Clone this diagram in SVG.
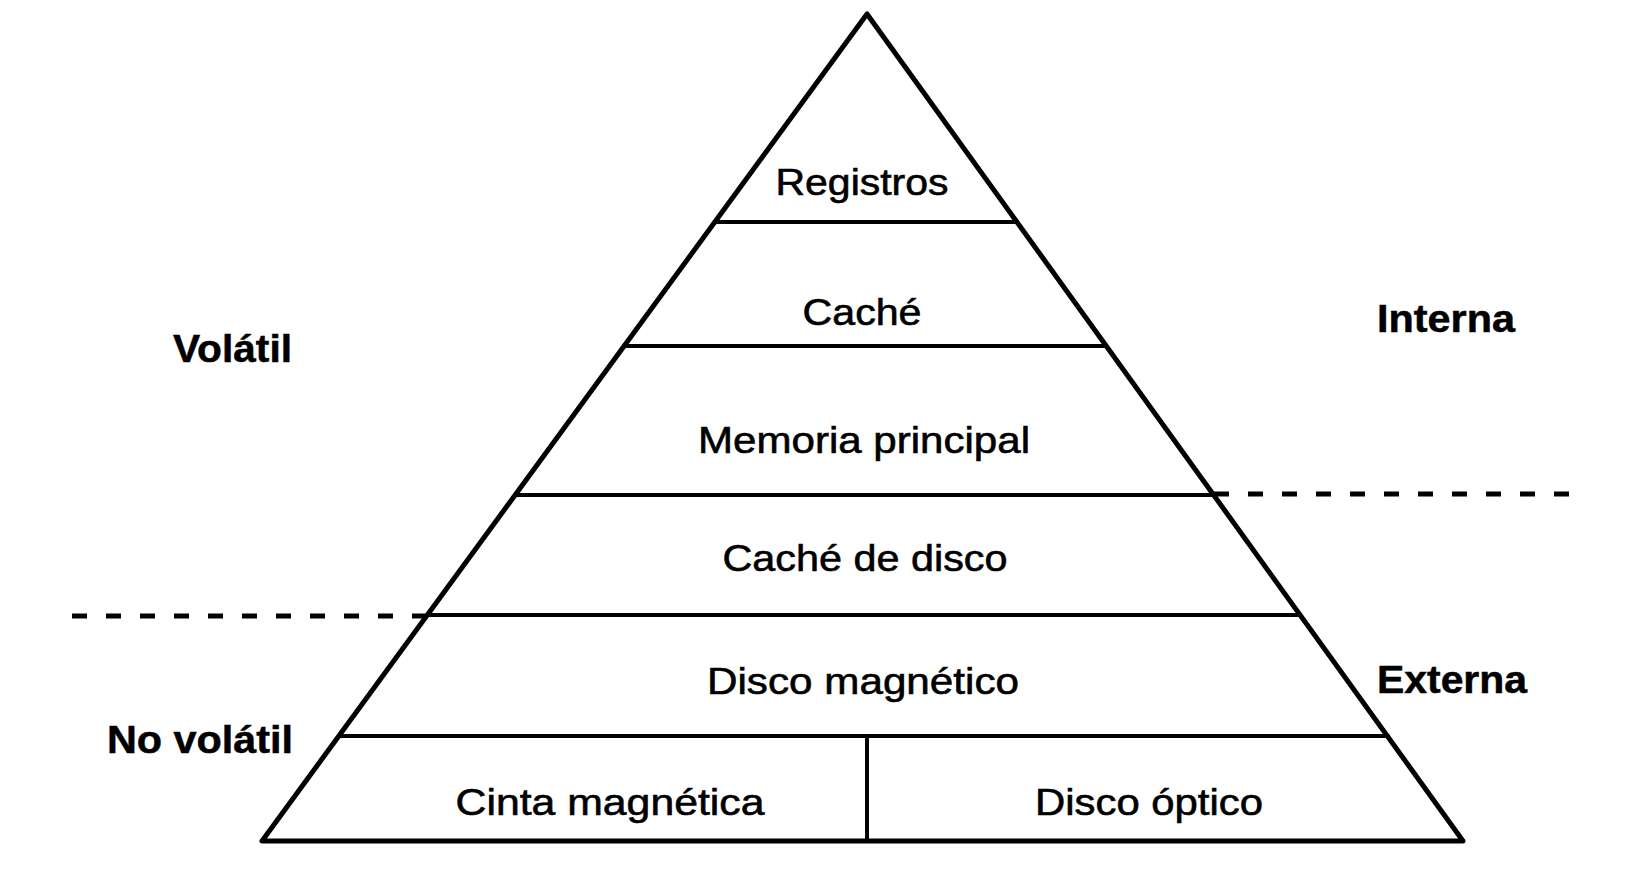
<svg xmlns="http://www.w3.org/2000/svg" width="1634" height="872" viewBox="0 0 1634 872">
<style>
.edge{stroke:#000;fill:none;stroke-linecap:round;stroke-linejoin:round}
.side{stroke-width:5}
.tier{stroke-width:4}
.dash{stroke:#000;stroke-width:5;stroke-dasharray:15 19;fill:none}
.lbl{font-family:"Liberation Sans",Arial,sans-serif;font-size:37px;fill:#000;stroke:#000;stroke-width:0.6;text-anchor:middle}
.side-lbl{font-family:"Liberation Sans",Arial,sans-serif;font-size:38px;font-weight:bold;fill:#000;stroke:#000;stroke-width:0.5}
</style>
<rect width="1634" height="872" fill="#fff"/>
<g id="connectors">
<polygon class="edge side" points="867,14 262,841 1463,841"/>
<line class="edge tier" x1="715" y1="222" x2="1017" y2="222"/>
<line class="edge tier" x1="624" y1="346" x2="1106" y2="346"/>
<line class="edge tier" x1="516" y1="495" x2="1214" y2="495"/>
<line class="edge tier" x1="428" y1="615" x2="1300" y2="615"/>
<line class="edge tier" x1="339" y1="736" x2="1388" y2="736"/>
<line class="edge tier" x1="867" y1="736" x2="867" y2="841"/>
<line class="dash" x1="72" y1="616" x2="428" y2="616"/>
<line class="dash" x1="1214" y1="494" x2="1572" y2="494"/>
</g>
<g id="registros"><text class="lbl" x="862" y="195" textLength="173" lengthAdjust="spacingAndGlyphs">Registros</text></g>
<g id="cache"><text class="lbl" x="862" y="325" textLength="119" lengthAdjust="spacingAndGlyphs">Caché</text></g>
<g id="memoria"><text class="lbl" x="864" y="453" textLength="332" lengthAdjust="spacingAndGlyphs">Memoria principal</text></g>
<g id="cache-disco"><text class="lbl" x="865" y="571" textLength="285" lengthAdjust="spacingAndGlyphs">Caché de disco</text></g>
<g id="disco-magnetico"><text class="lbl" x="863" y="694" textLength="312" lengthAdjust="spacingAndGlyphs">Disco magnético</text></g>
<g id="cinta"><text class="lbl" x="610" y="815" textLength="309" lengthAdjust="spacingAndGlyphs">Cinta magnética</text></g>
<g id="disco-optico"><text class="lbl" x="1149" y="815" textLength="228" lengthAdjust="spacingAndGlyphs">Disco óptico</text></g>
<g id="volatil"><text class="side-lbl" x="173" y="362" textLength="119" lengthAdjust="spacingAndGlyphs">Volátil</text></g>
<g id="no-volatil"><text class="side-lbl" x="107" y="753" textLength="186" lengthAdjust="spacingAndGlyphs">No volátil</text></g>
<g id="interna"><text class="side-lbl" x="1377" y="332" textLength="138" lengthAdjust="spacingAndGlyphs">Interna</text></g>
<g id="externa"><text class="side-lbl" x="1377" y="693" textLength="150" lengthAdjust="spacingAndGlyphs">Externa</text></g>
</svg>
